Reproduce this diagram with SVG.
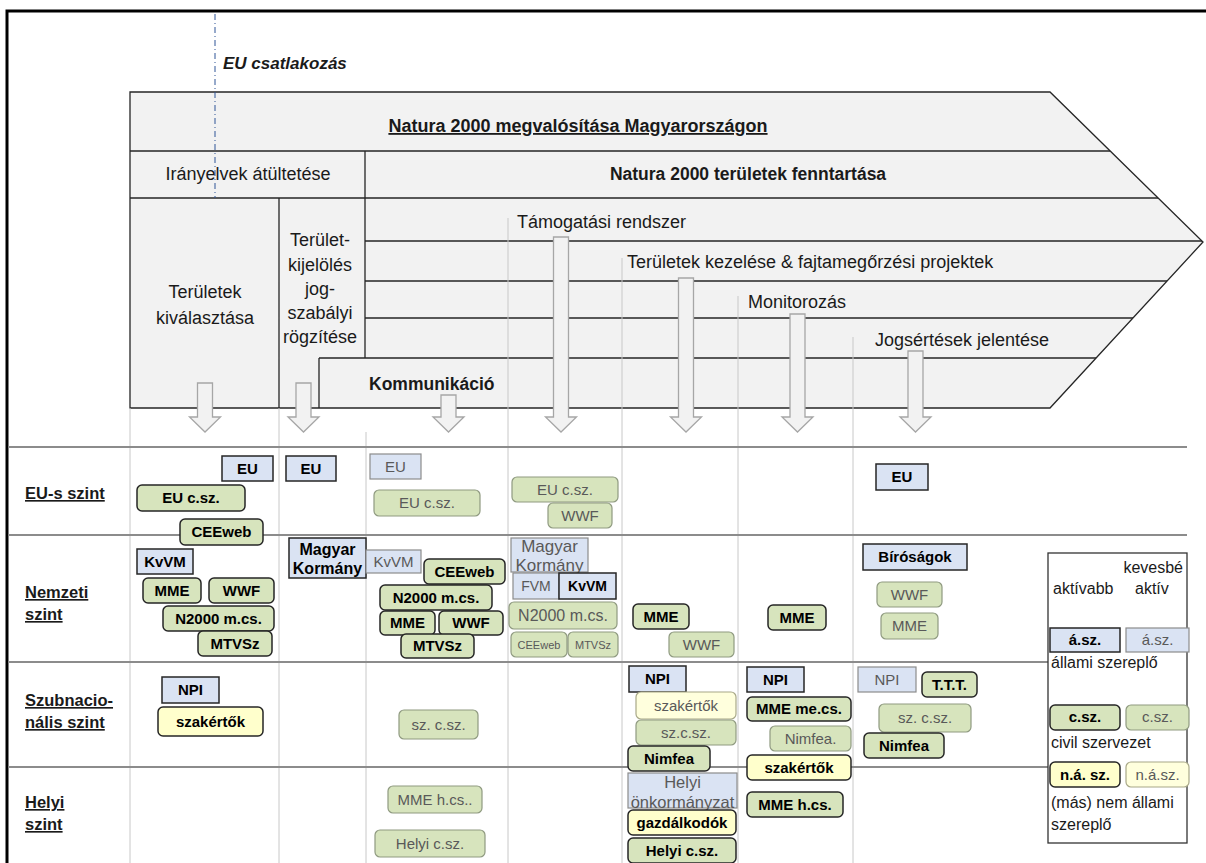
<svg xmlns="http://www.w3.org/2000/svg" width="1206" height="863" viewBox="0 0 1206 863">
<style>
.ch{fill:#f2f2f2;stroke:#262626;stroke-width:1.3}
.ln{stroke:#262626;stroke-width:1.3;fill:none}
.col{stroke:#c8c8c8;stroke-width:1;fill:none}
.lvl{stroke:#8c8c8c;stroke-width:2;fill:none}
.arr{fill:#f2f2f2;stroke:#a6a6a6;stroke-width:1.3}
text{font-family:"Liberation Sans",Arial,sans-serif;fill:#1a1a1a}
.big{font-size:18px}
.bb{font-size:17.5px;font-weight:bold}
.mid{text-anchor:middle}
.row{font-size:16.5px;font-weight:bold;text-decoration:underline}
.leg{font-size:16px}
.sA{fill:#dae3f3;stroke:#262626;stroke-width:1.5}
.sL{fill:#dae3f3;stroke:#8c8c8c;stroke-width:1.2}
.cA{fill:#d7e4bd;stroke:#262626;stroke-width:1.5}
.cL{fill:#d7e4bd;stroke:#8f9a80;stroke-width:1.2}
.nA{fill:#ffffcc;stroke:#262626;stroke-width:1.5}
.nL{fill:#ffffdd;stroke:#a8a888;stroke-width:1.2}
.ta{font-size:15px;font-weight:bold;fill:#000;text-anchor:middle}
.tl{font-size:15px;fill:#595959;text-anchor:middle}
.ts{font-size:11px;fill:#595959;text-anchor:middle}
</style>

<!-- frame -->
<path d="M7,1000 V11 H1300" fill="none" stroke="#000" stroke-width="3"/>

<!-- chevron -->
<g id="chevron">
<path class="ch" d="M130,92 H1050 L1203,242 L1050,408 H130 Z"/>
<path class="ln" d="M130,151 H1110 M130,198 H1158 M365,151 V358 M279,198 V408 M365,241 H1202 M365,281 H1167 M365,318 H1133 M319,358 H1096 M319,358 V408"/>
<text class="bb mid" x="578" y="132" style="font-size:18px;text-decoration:underline">Natura 2000 megvalósítása Magyarországon</text>
<text class="big mid" x="248" y="180">Irányelvek átültetése</text>
<text class="bb mid" x="748" y="180">Natura 2000 területek fenntartása</text>
<text class="big mid" x="205" y="298">Területek</text>
<text class="big mid" x="205" y="324">kiválasztása</text>
<text class="big mid" x="320" y="246">Terület-</text>
<text class="big mid" x="320" y="271">kijelölés</text>
<text class="big mid" x="320" y="295">jog-</text>
<text class="big mid" x="320" y="319">szabályi</text>
<text class="big mid" x="320" y="343">rögzítése</text>
<text class="big" x="517" y="228">Támogatási rendszer</text>
<text class="big" x="627" y="268">Területek kezelése &amp; fajtamegőrzési projektek</text>
<text class="big" x="748" y="308">Monitorozás</text>
<text class="big" x="875" y="346">Jogsértések jelentése</text>
<text class="bb" x="369" y="390">Kommunikáció</text>
</g>

<!-- EU accession marker -->
<g id="eu-accession">
<line x1="215" y1="14" x2="215" y2="198" stroke="#2f5597" stroke-width="1" stroke-dasharray="6 3 1 3"/>
<text x="223" y="69" style="font-size:17px;font-weight:bold;font-style:italic">EU csatlakozás</text>
</g>

<!-- grid -->
<g id="grid">
<path class="col" d="M130,408 V863 M279,408 V863 M366,432 V863 M508,218 V863 M622,258 V863 M738,296 V863 M853,337 V863"/>
<path class="lvl" d="M8,447 H1187 M8,535 H1187 M8,662 H1048 M8,767 H1048"/>
</g>

<!-- connectors (block arrows) -->
<g id="connectors">
<path class="arr" d="M197.5,383 H212.5 V417 H220.5 L205,432 L189.5,417 H197.5 Z"/>
<path class="arr" d="M296,383 H311 V417 H319 L303.5,432 L288,417 H296 Z"/>
<path class="arr" d="M441,395 H456 V417 H464 L448.5,432 L433,417 H441 Z"/>
<path class="arr" d="M553.5,237 H568.5 V417 H576.5 L561,432 L545.5,417 H553.5 Z"/>
<path class="arr" d="M678.5,278 H693.5 V417 H701.5 L686,432 L670.5,417 H678.5 Z"/>
<path class="arr" d="M790,314 H805 V417 H813 L797.5,432 L782,417 H790 Z"/>
<path class="arr" d="M908,351 H923 V417 H931 L915.5,432 L900,417 H908 Z"/>
</g>

<!-- level labels -->
<g id="levels">
<text class="row" x="25" y="499">EU-s szint</text>
<text class="row" x="25" y="598">Nemzeti</text>
<text class="row" x="25" y="620">szint</text>
<text class="row" x="25" y="706">Szubnacio-</text>
<text class="row" x="25" y="728">nális szint</text>
<text class="row" x="25" y="808">Helyi</text>
<text class="row" x="25" y="830">szint</text>
</g>

<!-- EU level -->
<g id="n-eu-1"><rect class="sA" x="222" y="456" width="51" height="25"/><text class="ta" x="247.5" y="474">EU</text></g>
<g id="n-eucsz-1"><rect class="cA" x="137" y="485" width="108" height="26" rx="5"/><text class="ta" x="191" y="503">EU c.sz.</text></g>
<g id="n-ceeweb-1"><rect class="cA" x="180" y="519" width="83" height="26" rx="5"/><text class="ta" x="221.5" y="537">CEEweb</text></g>
<g id="n-eu-2"><rect class="sA" x="286" y="456" width="50" height="25"/><text class="ta" x="311" y="474">EU</text></g>
<g id="n-eu-3"><rect class="sL" x="370" y="454" width="51" height="25"/><text class="tl" x="395.5" y="472">EU</text></g>
<g id="n-eucsz-3"><rect class="cL" x="374" y="490" width="106" height="26" rx="5"/><text class="tl" x="427" y="508">EU c.sz.</text></g>
<g id="n-eucsz-4"><rect class="cL" x="512" y="477" width="106" height="25" rx="5"/><text class="tl" x="565" y="495">EU c.sz.</text></g>
<g id="n-wwf-4a"><rect class="cL" x="548" y="503" width="64" height="25" rx="5"/><text class="tl" x="580" y="521">WWF</text></g>
<g id="n-eu-7"><rect class="sA" x="876" y="464" width="52" height="26"/><text class="ta" x="902" y="482">EU</text></g>

<!-- National level -->
<g id="n-kvvm-1"><rect class="sA" x="137" y="549" width="56" height="25"/><text class="ta" x="165" y="567">KvVM</text></g>
<g id="n-mme-1"><rect class="cA" x="143" y="578" width="58" height="25" rx="5"/><text class="ta" x="172" y="596">MME</text></g>
<g id="n-wwf-1"><rect class="cA" x="209" y="578" width="65" height="25" rx="5"/><text class="ta" x="241.5" y="596">WWF</text></g>
<g id="n-n2000-1"><rect class="cA" x="163" y="606" width="111" height="25" rx="5"/><text class="ta" x="218.5" y="624">N2000 m.cs.</text></g>
<g id="n-mtvsz-1"><rect class="cA" x="198" y="631" width="74" height="25" rx="5"/><text class="ta" x="235" y="649">MTVSz</text></g>
<g id="n-kormany-2"><rect class="sA" x="289" y="538" width="77" height="40"/><text class="ta" x="327.5" y="555" style="font-size:16px">Magyar</text><text class="ta" x="327.5" y="574" style="font-size:16px">Kormány</text></g>
<g id="n-kvvm-3"><rect class="sL" x="366" y="550" width="55" height="23"/><text class="tl" x="393.5" y="567">KvVM</text></g>
<g id="n-ceeweb-3"><rect class="cA" x="424" y="559" width="81" height="25" rx="5"/><text class="ta" x="464.5" y="577">CEEweb</text></g>
<g id="n-n2000-3"><rect class="cA" x="380" y="585" width="112" height="25" rx="5"/><text class="ta" x="436" y="603">N2000 m.cs.</text></g>
<g id="n-mme-3"><rect class="cA" x="380" y="611" width="55" height="24" rx="5"/><text class="ta" x="407.5" y="628">MME</text></g>
<g id="n-wwf-3"><rect class="cA" x="439" y="611" width="64" height="24" rx="5"/><text class="ta" x="471" y="628">WWF</text></g>
<g id="n-mtvsz-3"><rect class="cA" x="401" y="634" width="73" height="24" rx="5"/><text class="ta" x="437.5" y="651">MTVSz</text></g>
<g id="n-kormany-4"><rect class="sL" x="511" y="538" width="77" height="34"/><text class="tl" x="549.5" y="552" style="font-size:17px">Magyar</text><text class="tl" x="549.5" y="571" style="font-size:17px">Kormány</text></g>
<g id="n-fvm-4"><rect class="sL" x="513" y="573" width="46" height="26"/><text class="tl" x="536" y="591" style="font-size:14px">FVM</text></g>
<g id="n-kvvm-4"><rect class="sA" x="559" y="573" width="57" height="26"/><text class="ta" x="587.5" y="591" style="font-size:14px">KvVM</text></g>
<g id="n-n2000-4"><rect class="cL" x="509" y="602" width="108" height="27" rx="5"/><text class="tl" x="563" y="621" style="font-size:16px">N2000 m.cs.</text></g>
<g id="n-ceeweb-4"><rect class="cL" x="511" y="632" width="56" height="25" rx="5"/><text class="ts" x="539" y="649">CEEweb</text></g>
<g id="n-mtvsz-4"><rect class="cL" x="568" y="632" width="50" height="25" rx="5"/><text class="ts" x="593" y="649">MTVSz</text></g>
<g id="n-mme-5"><rect class="cA" x="633" y="604" width="56" height="25" rx="5"/><text class="ta" x="661" y="622">MME</text></g>
<g id="n-wwf-5"><rect class="cL" x="669" y="632" width="65" height="25" rx="5"/><text class="tl" x="701.5" y="650">WWF</text></g>
<g id="n-mme-6"><rect class="cA" x="768" y="605" width="58" height="25" rx="5"/><text class="ta" x="797" y="623">MME</text></g>
<g id="n-birosagok-7"><rect class="sA" x="863" y="544" width="104" height="26"/><text class="ta" x="915" y="562">Bíróságok</text></g>
<g id="n-wwf-7"><rect class="cL" x="877" y="582" width="65" height="25" rx="5"/><text class="tl" x="909.5" y="600">WWF</text></g>
<g id="n-mme-7"><rect class="cL" x="881" y="613" width="57" height="26" rx="5"/><text class="tl" x="909.5" y="631">MME</text></g>

<!-- Subnational level -->
<g id="n-npi-1"><rect class="sA" x="162" y="677" width="57" height="26"/><text class="ta" x="190.5" y="695">NPI</text></g>
<g id="n-szakertok-1"><rect class="nA" x="158" y="707" width="105" height="29" rx="5"/><text class="ta" x="210.5" y="727">szakértők</text></g>
<g id="n-szcsz-3"><rect class="cL" x="399" y="710" width="79" height="29" rx="5"/><text class="tl" x="438.5" y="730">sz. c.sz.</text></g>
<g id="n-npi-5"><rect class="sA" x="629" y="666" width="57" height="26"/><text class="ta" x="657.5" y="684">NPI</text></g>
<g id="n-szakertok-5"><rect class="nL" x="636" y="692" width="100" height="27" rx="5"/><text class="tl" x="686" y="711">szakértők</text></g>
<g id="n-szcsz-5"><rect class="cL" x="636" y="720" width="100" height="25" rx="5"/><text class="tl" x="686" y="738">sz.c.sz.</text></g>
<g id="n-nimfea-5"><rect class="cA" x="628" y="746" width="82" height="25" rx="5"/><text class="ta" x="669" y="764">Nimfea</text></g>
<g id="n-npi-6"><rect class="sA" x="747" y="667" width="57" height="25"/><text class="ta" x="775.5" y="685">NPI</text></g>
<g id="n-mmemecs-6"><rect class="cA" x="747" y="697" width="104" height="24" rx="5"/><text class="ta" x="799" y="714">MME me.cs.</text></g>
<g id="n-nimfea-6"><rect class="cL" x="770" y="726" width="81" height="25" rx="5"/><text class="tl" x="810.5" y="744">Nimfea.</text></g>
<g id="n-szakertok-6"><rect class="nA" x="747" y="755" width="104" height="25" rx="5"/><text class="ta" x="799" y="773">szakértők</text></g>
<g id="n-npi-7"><rect class="sL" x="858" y="667" width="58" height="25"/><text class="tl" x="887" y="685">NPI</text></g>
<g id="n-ttt-7"><rect class="cA" x="922" y="672" width="55" height="25" rx="5"/><text class="ta" x="949.5" y="690">T.T.T.</text></g>
<g id="n-szcsz-7"><rect class="cL" x="879" y="704" width="92" height="28" rx="5"/><text class="tl" x="925" y="723">sz. c.sz.</text></g>
<g id="n-nimfea-7"><rect class="cA" x="864" y="733" width="80" height="25" rx="5"/><text class="ta" x="904" y="751">Nimfea</text></g>

<!-- Local level -->
<g id="n-mmehcs-3"><rect class="cL" x="388" y="786" width="94" height="27" rx="5"/><text class="tl" x="435" y="805">MME h.cs..</text></g>
<g id="n-helyicsz-3"><rect class="cL" x="375" y="830" width="110" height="27" rx="5"/><text class="tl" x="430" y="849">Helyi c.sz.</text></g>
<g id="n-onkormanyzat-5"><rect class="sL" x="628" y="773" width="109" height="35"/><text class="tl" x="682.5" y="788" style="font-size:16.5px">Helyi</text><text class="tl" x="682.5" y="808" style="font-size:16.5px">önkormányzat</text></g>
<g id="n-gazdalkodok-5"><rect class="nA" x="628" y="810" width="108" height="25" rx="5"/><text class="ta" x="682" y="828">gazdálkodók</text></g>
<g id="n-helyicsz-5"><rect class="cA" x="628" y="838" width="108" height="25" rx="5"/><text class="ta" x="682" y="856">Helyi c.sz.</text></g>
<g id="n-mmehcs-6"><rect class="cA" x="747" y="792" width="96" height="25" rx="5"/><text class="ta" x="795" y="810">MME h.cs.</text></g>

<!-- Legend -->
<g id="legend">
<rect x="1048" y="553" width="139" height="290" fill="#fff" stroke="#333" stroke-width="1.3"/>
<text class="leg" x="1183" y="573" text-anchor="end">kevesbé</text>
<text class="leg" x="1053" y="594">aktívabb</text>
<text class="leg" x="1135" y="594">aktív</text>
<rect class="sA" x="1050" y="628" width="70" height="24"/><text class="ta" x="1085" y="645">á.sz.</text>
<rect class="sL" x="1126" y="628" width="63" height="24"/><text class="tl" x="1157.5" y="645">á.sz.</text>
<text class="leg" x="1051" y="668">állami szereplő</text>
<rect class="cA" x="1050" y="705" width="70" height="25" rx="5"/><text class="ta" x="1085" y="722">c.sz.</text>
<rect class="cL" x="1126" y="705" width="63" height="25" rx="5"/><text class="tl" x="1157.5" y="722">c.sz.</text>
<text class="leg" x="1051" y="748">civil szervezet</text>
<rect class="nA" x="1050" y="762" width="70" height="25" rx="5"/><text class="ta" x="1085" y="780">n.á. sz.</text>
<rect class="nL" x="1126" y="762" width="63" height="25" rx="5"/><text class="tl" x="1157.5" y="780">n.á.sz.</text>
<text class="leg" x="1051" y="808">(más) nem állami</text>
<text class="leg" x="1051" y="830">szereplő</text>
</g>
</svg>
